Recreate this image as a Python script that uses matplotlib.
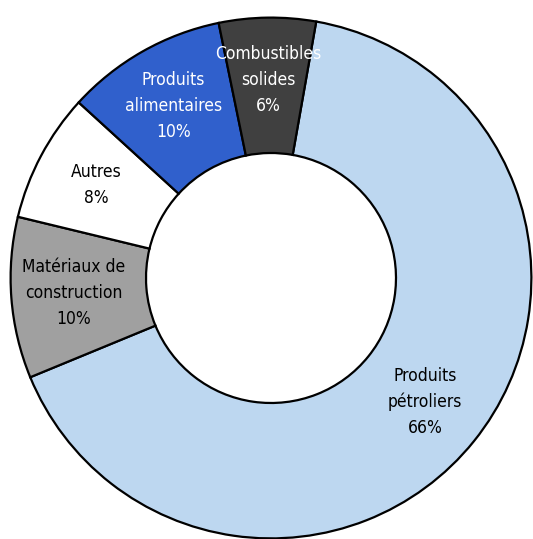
import matplotlib.pyplot as plt
from matplotlib import font_manager

# categories in clockwise order, starting after the top
categories = ["Produits\npétroliers", "Matériaux de\nconstruction", "Autres",
              "Produits\nalimentaires", "Combustibles\nsolides"]
shares = [66, 10, 8, 10, 6]
colors = ["#BDD7F0", "#A0A0A0", "#FFFFFF", "#3060CC", "#404040"]
text_colors = ["black", "black", "black", "white", "white"]

# pick a narrow regular face if one is installed
narrow = [f for f in font_manager.fontManager.ttflist
          if ("Narrow" in f.name or "Condensed" in f.name
              or "ondensed" in f.fname or "Narrow" in f.fname)
          and f.weight in ("normal", "regular", 400, "book")
          and f.style == "normal"]
font_file = narrow[0].fname if narrow else None

fig = plt.figure(figsize=(5.33, 5.39), dpi=100)
ax = fig.add_axes([8 / 533, -2 / 539, 526 / 533, 526 / 539])

labels = [f"{c}\n{v}%" for c, v in zip(categories, shares)]
wedges, texts = ax.pie(
    shares,
    labels=labels,
    colors=colors,
    startangle=80,
    counterclock=False,
    radius=1,
    labeldistance=0.76,
    wedgeprops=dict(width=0.52, edgecolor="black", linewidth=1.6),
    textprops=dict(fontsize=12, ha="center", va="center", linespacing=1.55),
)
for t, c in zip(texts, text_colors):
    t.set_color(c)
    t.set_horizontalalignment("center")
    if font_file:
        t.set_fontproperties(font_manager.FontProperties(fname=font_file, size=12.5))

ax.set_xlim(-1.01, 1.01)
ax.set_ylim(-1.01, 1.01)
ax.set_aspect("auto")
ax.axis("off")

plt.savefig("out.png", dpi=100)
